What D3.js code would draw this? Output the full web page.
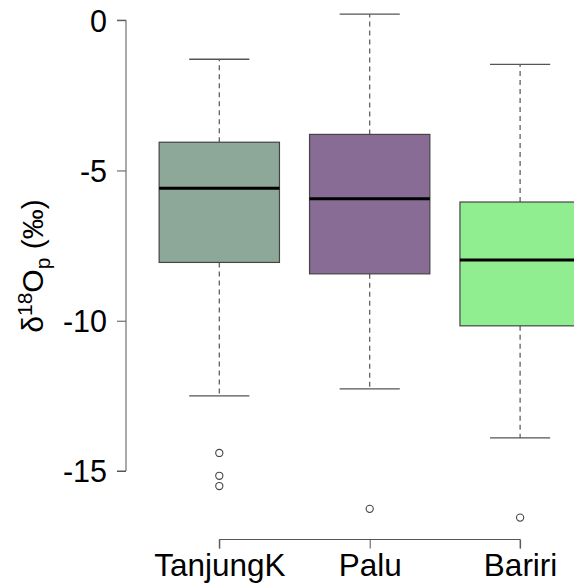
<!DOCTYPE html>
<html>
<head>
<meta charset="utf-8">
<script src="https://cdn.jsdelivr.net/npm/d3@7/dist/d3.min.js"></script>
<style>
  html, body { margin: 0; padding: 0; background: #fff; }
  svg { display: block; }
  text { font-family: "Liberation Sans", Arial, sans-serif; }
</style>
</head>
<body>
<svg id="chart" width="574" height="583"></svg>
<script>
const categories = ["TanjungK", "Palu", "Bariri"];
const whiskerHigh = [-1.30, 0.20, -1.47];
const q3 = [-4.06, -3.80, -6.05];
const median = [-5.59, -5.94, -7.98];
const q1 = [-8.06, -8.44, -10.17];
const whiskerLow = [-12.50, -12.27, -13.90];
const outliers = [[-14.40, -15.16, -15.50], [-16.26], [-16.55]];
const fills = ["#8da899", "#896c95", "#90ee90"];
const yTicks = [0, -5, -10, -15];

const svg = d3.select("#chart");
const y = d3.scaleLinear().domain([-15, 0]).range([471, 20.2]);
const x = d3.scalePoint().domain(categories).range([219.3, 520.1]);
const step = x.step();
const boxW = step * 0.8;
const capW = boxW * 0.5;

const axisColor = "#555";

// Y axis
const yAxis = svg.append("g").attr("transform", "translate(126,0)")
  .call(d3.axisLeft(y).tickValues(yTicks).tickSize(9).tickPadding(10).tickFormat(d => d3.format("d")(d).replace("−", "-")));
yAxis.select(".domain").attr("stroke", axisColor).attr("d", `M-9,${y(0)}H0V${y(-15)}H-9`);
yAxis.selectAll(".tick line").attr("stroke", axisColor);
yAxis.selectAll(".tick text").attr("fill", "#000").style("font-size", "30.5px").attr("dy", "0.36em");

// X axis
const xAxis = svg.append("g").attr("transform", "translate(0,539.5)")
  .call(d3.axisBottom(x).tickSize(9).tickPadding(6));
xAxis.select(".domain").attr("stroke", axisColor)
  .attr("d", `M${x(categories[0])},9V0H${x(categories[categories.length-1])}V9`);
xAxis.selectAll(".tick line").attr("stroke", axisColor);
xAxis.selectAll(".tick text").attr("fill", "#000").style("font-size", "31.5px").attr("dy", "0.68em");

// Boxes
const data = categories.map((c, i) => ({c, i}));
const g = svg.append("g");
const grp = g.selectAll("g.box").data(data).join("g").attr("class", "box");

// whiskers (dashed)
grp.append("line")
  .attr("x1", d => x(d.c)).attr("x2", d => x(d.c))
  .attr("y1", d => y(q3[d.i])).attr("y2", d => y(whiskerHigh[d.i]))
  .attr("stroke", "#555").attr("stroke-width", 1.2).attr("stroke-dasharray", "5,4");
grp.append("line")
  .attr("x1", d => x(d.c)).attr("x2", d => x(d.c))
  .attr("y1", d => y(q1[d.i])).attr("y2", d => y(whiskerLow[d.i]))
  .attr("stroke", "#555").attr("stroke-width", 1.2).attr("stroke-dasharray", "5,4");
// caps
grp.append("line")
  .attr("x1", d => x(d.c) - capW / 2).attr("x2", d => x(d.c) + capW / 2)
  .attr("y1", d => y(whiskerHigh[d.i])).attr("y2", d => y(whiskerHigh[d.i]))
  .attr("stroke", "#555").attr("stroke-width", 1.3);
grp.append("line")
  .attr("x1", d => x(d.c) - capW / 2).attr("x2", d => x(d.c) + capW / 2)
  .attr("y1", d => y(whiskerLow[d.i])).attr("y2", d => y(whiskerLow[d.i]))
  .attr("stroke", "#555").attr("stroke-width", 1.3);
// box
grp.append("rect")
  .attr("x", d => x(d.c) - boxW / 2).attr("width", boxW)
  .attr("y", d => y(q3[d.i])).attr("height", d => y(q1[d.i]) - y(q3[d.i]))
  .attr("fill", d => fills[d.i]).attr("stroke", "#444").attr("stroke-width", 1.2);
// median
grp.append("line")
  .attr("x1", d => x(d.c) - boxW / 2).attr("x2", d => x(d.c) + boxW / 2)
  .attr("y1", d => y(median[d.i])).attr("y2", d => y(median[d.i]))
  .attr("stroke", "#000").attr("stroke-width", 3);
// outliers
grp.selectAll("circle").data(d => outliers[d.i].map(v => ({c: d.c, v}))).join("circle")
  .attr("cx", d => x(d.c)).attr("cy", d => y(d.v)).attr("r", 3.6)
  .attr("fill", "none").attr("stroke", "#444").attr("stroke-width", 1.1);

// Y label
const lab = svg.append("text")
  .attr("transform", "translate(43,266) rotate(-90)")
  .attr("text-anchor", "middle")
  .style("font-size", "30px").attr("fill", "#000");
lab.append("tspan").text("δ");
lab.append("tspan").text("18").style("font-size", "21px").attr("dy", "-11");
lab.append("tspan").text("O").attr("dy", "11");
lab.append("tspan").text("p").style("font-size", "21px").attr("dy", "7");
lab.append("tspan").text(" (‰)").attr("dy", "-7");
</script>
</body>
</html>
